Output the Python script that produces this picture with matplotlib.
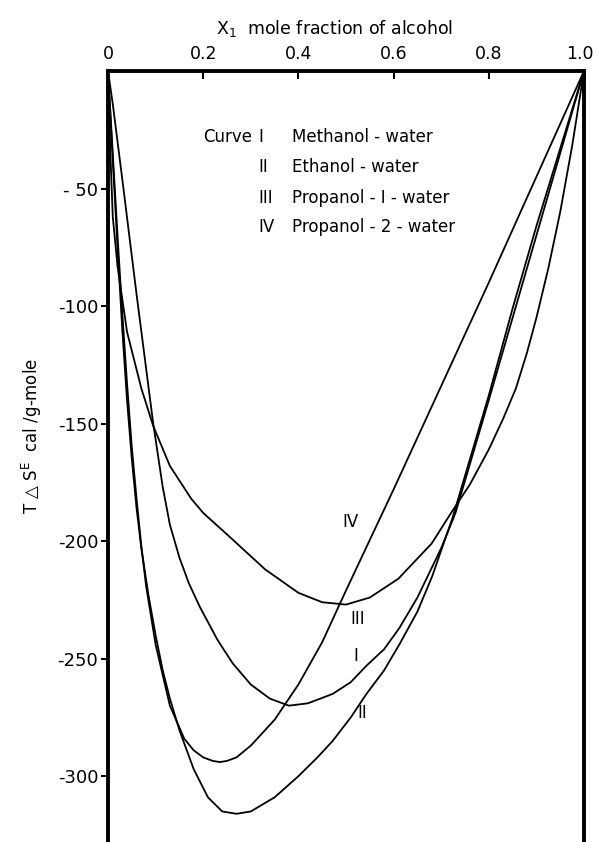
import matplotlib
matplotlib.use("Agg")
import matplotlib.pyplot as plt
import matplotlib.transforms as mtransforms

plt.rcParams['font.family'] = ['DejaVu Sans']

# ---- data ----
x_I = [0, 0.01, 0.03, 0.06, 0.095, 0.115, 0.13, 0.15, 0.17, 0.193, 0.23, 0.262, 0.30, 0.34,
       0.38, 0.42, 0.472, 0.51, 0.543, 0.58, 0.612, 0.65, 0.70, 0.73, 0.80, 0.85, 0.90, 0.95, 1.0]
y_I = [0, -14, -46, -95, -150, -177, -193, -207, -218, -228, -242, -252, -261, -267,
       -270, -269, -265, -260, -253, -246, -237, -224, -203, -188, -140, -105, -70, -35, 0]

x_II = [0, 0.01, 0.02, 0.03, 0.04, 0.05, 0.06, 0.07, 0.085, 0.10, 0.115, 0.13, 0.151, 0.18,
        0.21, 0.24, 0.27, 0.30, 0.35, 0.40, 0.44, 0.472, 0.51, 0.543, 0.58, 0.612, 0.65,
        0.681, 0.724, 0.80, 0.85, 0.90, 0.95, 1.0]
y_II = [0, -38, -75, -110, -140, -165, -186, -203, -223, -240, -255, -267, -281, -297,
        -309, -315, -316, -315, -309, -300, -292, -285, -275, -265, -255, -244, -230,
        -215, -190, -138, -101, -66, -33, 0]

x_III = [0, 0.005, 0.01, 0.02, 0.04, 0.07, 0.095, 0.13, 0.175, 0.20, 0.26, 0.33, 0.40, 0.45,
         0.50, 0.55, 0.61, 0.68, 0.724, 0.76, 0.80, 0.83, 0.857, 0.88, 0.90, 0.925, 0.95,
         0.975, 1.0]
y_III = [0, -35, -62, -83, -111, -135, -151, -168, -182, -188, -199, -212, -222, -226,
         -227, -224, -216, -201, -187, -176, -161, -148, -135, -120, -105, -84, -60,
         -32, 0]

x_IV = [0, 0.01, 0.02, 0.03, 0.04, 0.05, 0.06, 0.07, 0.08, 0.10, 0.13, 0.16, 0.18, 0.20,
        0.22, 0.235, 0.25, 0.27, 0.30, 0.35, 0.40, 0.45, 0.50, 0.60, 0.70, 0.80, 0.90, 1.0]
y_IV = [0, -35, -70, -103, -133, -160, -182, -202, -219, -244, -270, -284, -289, -292,
        -293.5, -294, -293.5, -292, -287, -276, -261, -243, -221, -178, -134, -90, -45, 0]

curve_numerals = ["I", "II", "III", "IV"]
curve_names = ["Methanol - water", "Ethanol - water", "Propanol - I - water", "Propanol - 2 - water"]
label_pos = {"IV": (0.51, -192), "III": (0.525, -233), "I": (0.52, -249), "II": (0.535, -273)}

x_ticks = [0, 0.2, 0.4, 0.6, 0.8, 1.0]
x_ticklabels = ["0", "0.2", "0.4", "0.6", "0.8", "1.0"]
y_ticks = [-50, -100, -150, -200, -250, -300]
y_ticklabels = ["- 50", "-100", "-150", "-200", "-250", "-300"]

# ---- figure ----
W, H = 597, 842
fig = plt.figure(figsize=(W / 100, H / 100), dpi=100)
L, R, T = 108, 584, 71
ax = fig.add_axes([L / W, 0, (R - L) / W, 1 - T / H])

for xs, ys in [(x_I, y_I), (x_II, y_II), (x_III, y_III), (x_IV, y_IV)]:
    ax.plot(xs, ys, color='black', lw=1.3, solid_joinstyle='round')

ax.set_xlim(0, 1.0)
ax.set_ylim(-328, 0)

ax.xaxis.tick_top()
ax.xaxis.set_label_position('top')
ax.set_xticks(x_ticks)
ax.set_xticklabels(x_ticklabels, fontsize=12.5)
ax.set_yticks(y_ticks)
ax.set_yticklabels(y_ticklabels, fontsize=13)
ax.tick_params(axis='x', direction='in', length=6, width=1.5, pad=6)
ax.tick_params(axis='y', direction='out', length=5, width=1.5, pad=2)

# keep the "1.0" label inside the figure
last = ax.get_xticklabels()[-1]
last.set_transform(last.get_transform() + mtransforms.ScaledTranslation(-4 / 100, 0, fig.dpi_scale_trans))

for s in ['left', 'top', 'right']:
    ax.spines[s].set_linewidth(2.8)
ax.spines['bottom'].set_visible(False)

ax.set_xlabel(r"X$_{\mathregular{1}}$  mole fraction of alcohol", fontsize=12.5, labelpad=8)
ax.xaxis.label.set_position((0.475, 1))
ax.set_ylabel(r"T △ S$^{\mathregular{E}}$  cal /g-mole", fontsize=12, labelpad=10)
ax.yaxis.label.set_position((0, 0.527))

# legend block
def px(xp, yp):
    return xp / W, 1 - yp / H

rows_y = [137, 167, 198, 227]
fig.text(*px(252, rows_y[0]), "Curve", fontsize=12, va='center', ha='right')
for num, name, yy in zip(curve_numerals, curve_names, rows_y):
    fig.text(*px(258, yy), num, fontsize=12, va='center', ha='left')
    fig.text(*px(292, yy), name, fontsize=12, va='center', ha='left')

for num in curve_numerals:
    xx, yy = label_pos[num]
    ax.text(xx, yy, num, fontsize=12, ha='center', va='center')

fig.savefig("out.png", dpi=100)
